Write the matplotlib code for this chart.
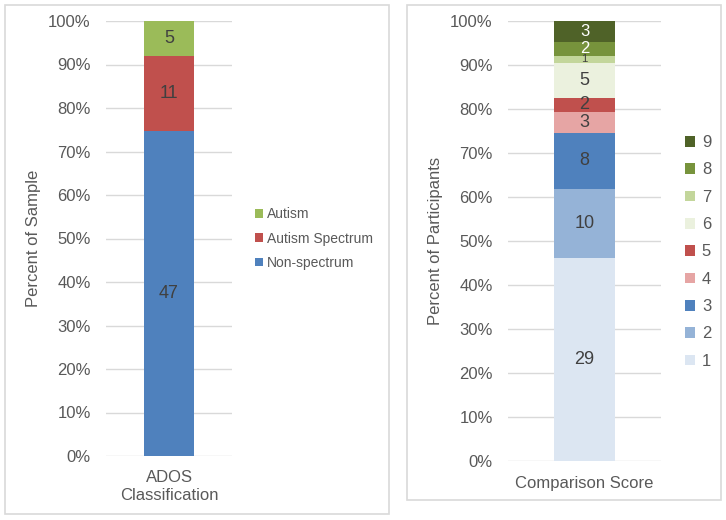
import matplotlib.pyplot as plt
from matplotlib.patches import Rectangle
from matplotlib.ticker import PercentFormatter

plt.rcParams['font.family'] = ['Liberation Sans', 'DejaVu Sans']

# left chart: ADOS classification counts (bottom to top)
ados_cats = ['Non-spectrum', 'Autism Spectrum', 'Autism']
ados_counts = [47, 11, 5]
ados_colors = ['#4F81BD', '#C0504D', '#9BBB59']

# right chart: comparison score counts (1 at bottom .. 9 at top)
score_cats = ['1', '2', '3', '4', '5', '6', '7', '8', '9']
score_counts = [29, 10, 8, 3, 2, 5, 1, 2, 3]
score_colors = ['#DCE6F2', '#95B3D7', '#4F81BD', '#E6A5A4', '#C0504D',
                '#EBF1DE', '#C3D69B', '#77933C', '#4F6228']
score_label_colors = ['#404040'] * 7 + ['white', 'white']
score_label_sizes = [13] * 6 + [8, 12, 12]

tick_gray = '#595959'
grid_gray = '#D9D9D9'

fig = plt.figure(figsize=(7.26, 5.2), dpi=100)

# panel frames
fig.patches.append(Rectangle((5 / 726, 1 - 514 / 520), 384 / 726, 509 / 520,
                             transform=fig.transFigure, fill=False,
                             edgecolor=grid_gray, linewidth=1.2))
fig.patches.append(Rectangle((407 / 726, 1 - 500 / 520), 314 / 726, 495 / 520,
                             transform=fig.transFigure, fill=False,
                             edgecolor=grid_gray, linewidth=1.2))


def style_axis(ax, xlabel, ylabel, xpad):
    ax.set_xlim(-0.5, 0.5)
    ax.set_ylim(0, 1)
    ax.set_yticks([i / 10 for i in range(11)])
    ax.yaxis.set_major_formatter(PercentFormatter(1.0, decimals=0))
    ax.set_xticks([0])
    ax.set_xticklabels([xlabel], linespacing=1.25)
    ax.tick_params(axis='both', length=0, labelsize=12, labelcolor=tick_gray)
    ax.tick_params(axis='y', pad=11)
    ax.tick_params(axis='x', pad=xpad)
    ax.set_ylabel(ylabel, fontsize=12, color=tick_gray, labelpad=5)
    ax.grid(axis='y', color=grid_gray, linewidth=1)
    ax.set_axisbelow(True)
    for key, spine in ax.spines.items():
        spine.set_visible(False)


# left chart
ax1 = fig.add_axes([106 / 726, 1 - 456 / 520, 126 / 726, 435 / 520])
total = sum(ados_counts)
bottom = 0
for cat, n, c in zip(ados_cats, ados_counts, ados_colors):
    bars = ax1.bar(0, n / total, bottom=bottom, width=0.397, color=c, label=cat)
    ax1.bar_label(bars, labels=[str(n)], label_type='center', fontsize=13,
                  color='#404040')
    bottom += n / total
style_axis(ax1, 'ADOS\nClassification', 'Percent of Sample', 10)
h, l = ax1.get_legend_handles_labels()
ax1.legend(h[::-1], l[::-1], loc='center left', bbox_to_anchor=(1.08, 0.5),
           frameon=False, fontsize=10, labelcolor=tick_gray,
           handlelength=0.6, handleheight=0.6, handletextpad=0.3,
           labelspacing=0.75)

# right chart
ax2 = fig.add_axes([508 / 726, 1 - 461 / 520, 153 / 726, 440 / 520])
total = sum(score_counts)
bottom = 0
for cat, n, c, lc, fs in zip(score_cats, score_counts, score_colors,
                             score_label_colors, score_label_sizes):
    bars = ax2.bar(0, n / total, bottom=bottom, width=0.4, color=c, label=cat)
    ax2.bar_label(bars, labels=[str(n)], label_type='center', fontsize=fs,
                  color=lc)
    bottom += n / total
style_axis(ax2, 'Comparison Score', 'Percent of Participants', 11)
h, l = ax2.get_legend_handles_labels()
ax2.legend(h[::-1], l[::-1], loc='center left', bbox_to_anchor=(1.06, 0.475),
           frameon=False, fontsize=12, labelcolor=tick_gray,
           handlelength=0.6, handleheight=0.6, handletextpad=0.4,
           labelspacing=0.74)

fig.savefig('out.png', dpi=100)
